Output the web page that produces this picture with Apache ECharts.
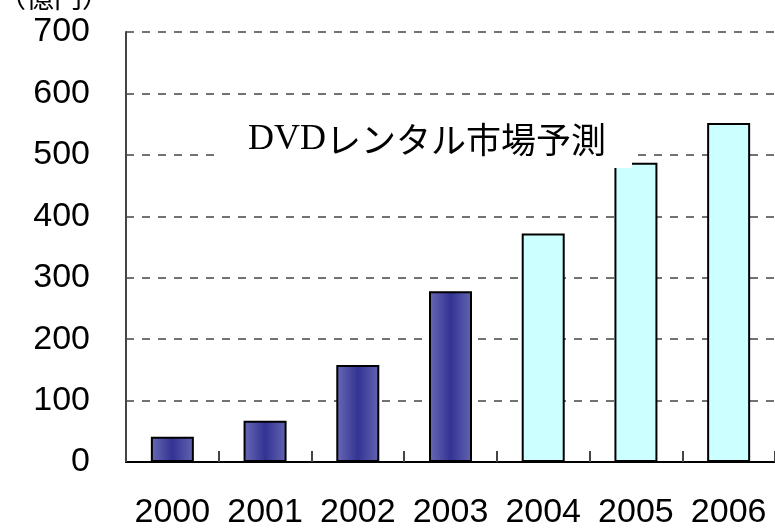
<!DOCTYPE html>
<html><head><meta charset="utf-8">
<script src="https://cdn.jsdelivr.net/npm/echarts@6/dist/echarts.min.js"></script>
<style>html,body{margin:0;padding:0;background:#fff}#c{width:775px;height:530px}</style>
</head><body><div id="c"></div>
<script>
const categories = ['2000','2001','2002','2003','2004','2005','2006'];
const actualValues = [41, 67, 158, 278, null, null, null];
const forecastValues = [null, null, null, null, 372, 487, 552];
const yTicks = [0, 100, 200, 300, 400, 500, 600, 700];
const unitLabel = '（億円）';
const titleLatin = 'DVD';
const titleJa = 'レンタル市場予測';

const chart = echarts.init(document.getElementById('c'));
const blueGrad = new echarts.graphic.LinearGradient(0, 0, 1, 0, [
  {offset: 0, color: '#6a6ab6'},
  {offset: 0.5, color: '#333393'},
  {offset: 1, color: '#6464b2'}
]);
chart.setOption({
  animation: false,
  backgroundColor: '#fff',
  grid: {left: 126, right: -4, top: 32, bottom: 67},
  title: {
    text: '{a|' + titleLatin + '}{b|' + titleJa + '}',
    left: 222, top: 116,
    padding: [6, 26, 10, 26],
    backgroundColor: '#fff',
    textStyle: {
      fontWeight: 'normal',
      rich: {
        a: {fontFamily: 'Liberation Serif', fontSize: 36, fontWeight: 'normal', color: '#000'},
        b: {fontFamily: 'Noto Sans CJK JP', fontSize: 35, fontWeight: 'normal', color: '#000'}
      }
    }
  },
  graphic: [{
    type: 'text', left: -2, top: -17,
    style: {text: unitLabel, font: '28px "Noto Sans CJK JP"', fill: '#000'}
  }],
  xAxis: {
    type: 'category', data: categories,
    axisLine: {lineStyle: {color: '#000', width: 2}},
    axisTick: {show: true, inside: true, length: 11, lineStyle: {color: '#444', width: 2}},
    axisLabel: {interval: 0, fontFamily: 'Liberation Sans', fontSize: 34, color: '#000', margin: 34}
  },
  yAxis: {
    type: 'value', min: yTicks[0], max: yTicks[yTicks.length - 1], interval: 100,
    axisLine: {show: true, lineStyle: {color: '#444', width: 2}},
    axisTick: {show: false},
    axisLabel: {fontFamily: 'Liberation Sans', fontSize: 34, color: '#000', margin: 36},
    splitLine: {lineStyle: {color: '#444', type: [8, 8], width: 1.5}}
  },
  series: [{
    type: 'bar', data: actualValues, barWidth: 43, barGap: '-100%',
    itemStyle: {color: blueGrad, borderColor: '#000', borderWidth: 2}
  }, {
    type: 'bar', data: forecastValues, barWidth: 43,
    itemStyle: {color: '#ccffff', borderColor: '#000', borderWidth: 2}
  }]
});
</script></body></html>
